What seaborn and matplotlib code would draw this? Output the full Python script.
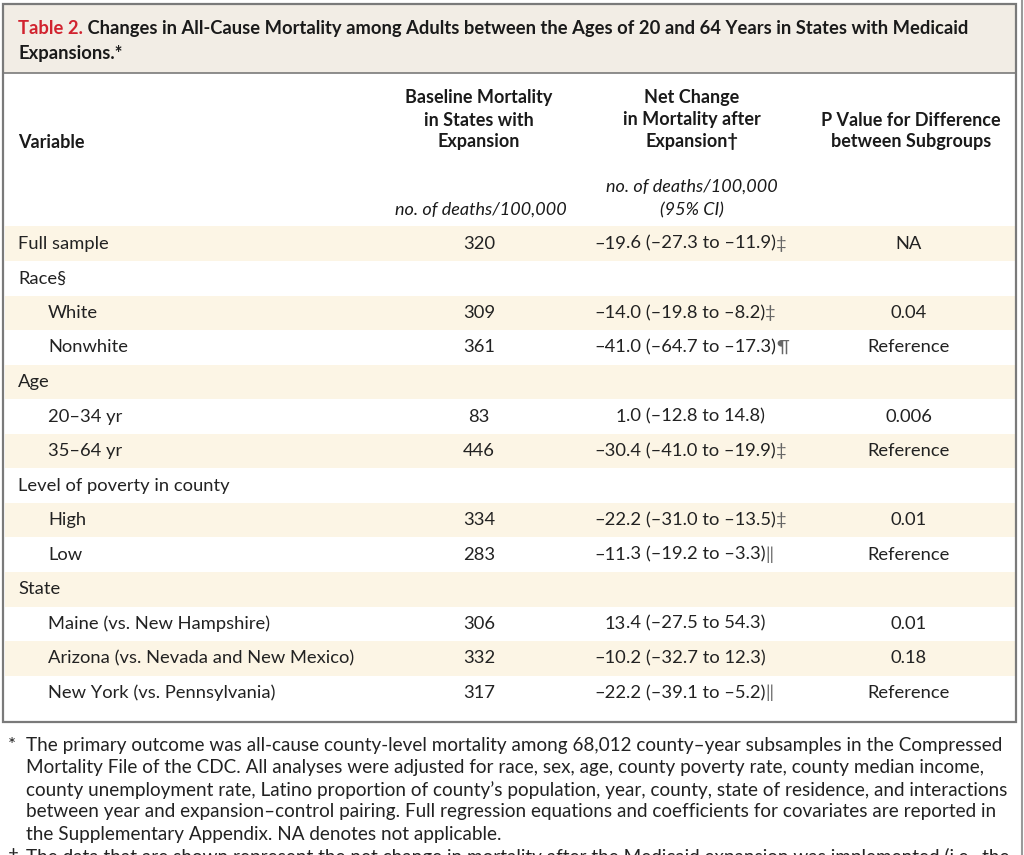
import numpy as np
import seaborn as sns
import matplotlib.pyplot as plt
from matplotlib.colors import ListedColormap
from matplotlib.patches import Rectangle

sns.set_theme(style="white")
plt.rcParams["font.family"] = ["Lato", "DejaVu Sans"]

W, H = 1024, 855

# table content
variables = ["Full sample", "Race\u00a7", "White", "Nonwhite", "Age", "20\u201334 yr", "35\u201364 yr",
             "Level of poverty in county", "High", "Low", "State",
             "Maine (vs. New Hampshire)", "Arizona (vs. Nevada and New Mexico)",
             "New York (vs. Pennsylvania)"]
indented = [False, False, True, True, False, True, True, False, True, True, False, True, True, True]
baseline = [320, None, 309, 361, None, 83, 446, None, 334, 283, None, 306, 332, 317]
net_change = [-19.6, None, -14.0, -41.0, None, 1.0, -30.4, None, -22.2, -11.3, None, 13.4, -10.2, -22.2]
ci_low = [-27.3, None, -19.8, -64.7, None, -12.8, -41.0, None, -31.0, -19.2, None, -27.5, -32.7, -39.1]
ci_high = [-11.9, None, -8.2, -17.3, None, 14.8, -19.9, None, -13.5, -3.3, None, 54.3, 12.3, -5.2]
marks = ["\u2021", "", "\u2021", "\u00b6", "", "", "\u2021", "", "\u2021", "\u2016", "", "", "", "\u2016"]
p_values = ["NA", "", "0.04", "Reference", "", "0.006", "Reference", "", "0.01", "Reference",
            "", "0.01", "0.18", "Reference"]

title_red = "Table 2."
title_rest = [" Changes in All-Cause Mortality among Adults between the Ages of 20 and 64 Years in States with Medicaid",
              "Expansions.*"]

footnotes = [
    ("*", "The primary outcome was all-cause county-level mortality among 68,012 county\u2013year subsamples in the Compressed"),
    ("", "Mortality File of the CDC. All analyses were adjusted for race, sex, age, county poverty rate, county median income,"),
    ("", "county unemployment rate, Latino proportion of county\u2019s population, year, county, state of residence, and interactions"),
    ("", "between year and expansion\u2013control pairing. Full regression equations and coefficients for covariates are reported in"),
    ("", "the Supplementary Appendix. NA denotes not applicable."),
    ("\u2020", "The data that are shown represent the net change in mortality after the Medicaid expansion was implemented (i.e., the"),
]


def fmt(v):
    return f"{v:.1f}".replace("-", "\u2013")


fig = plt.figure(figsize=(W / 100, H / 100), dpi=100)
fig.patch.set_facecolor("white")

# row shading via a seaborn heatmap
band_top, row_h = 226.5, 34.55
band_x0, band_x1 = 5, 1015
n = len(variables)
ax_band = fig.add_axes([band_x0 / W, 1 - (band_top + n * row_h) / H,
                        (band_x1 - band_x0) / W, n * row_h / H])
stripes = np.array([[i % 2] for i in range(n)])
sns.heatmap(stripes, cmap=ListedColormap(["#fcf5e5", "#ffffff"]), cbar=False,
            xticklabels=False, yticklabels=False, ax=ax_band)

ax = fig.add_axes([0, 0, 1, 1])
ax.set_xlim(0, W)
ax.set_ylim(H, 0)
ax.axis("off")
ax.patch.set_alpha(0)

# boxes
border = "#7a7a7a"
ax.add_patch(Rectangle((3, 4), 1013, 69, facecolor="#f2ede5", edgecolor="none", zorder=0))
ax.add_patch(Rectangle((3, 4), 1013, 718, facecolor="none", edgecolor=border, lw=1.6, zorder=3))
ax.plot([3, 1016], [73.5, 73.5], color=border, lw=1.2, zorder=3)
ax.plot([1021.5, 1021.5], [0, H], color="#9a9a9a", lw=1.5, zorder=3)

# title
fs_title = 13.2
t = ax.text(18, 27, title_red, color="#d1232f", fontsize=fs_title, fontweight="bold",
            va="center_baseline", ha="left")
fig.canvas.draw()
w_red = t.get_window_extent().width
ax.text(18 + w_red, 27, title_rest[0], color="#1a1a1a", fontsize=fs_title, fontweight="bold",
        va="center_baseline", ha="left")
ax.text(18, 52, title_rest[1], color="#1a1a1a", fontsize=fs_title, fontweight="bold",
        va="center_baseline", ha="left")

# header
fs_head = 13.0
hc = "#1a1a1a"
ax.text(18, 142, "Variable", fontsize=fs_head, fontweight="bold", color=hc, va="center")
for y, s in zip([98, 120, 142], ["Baseline Mortality", "in States with", "Expansion"]):
    ax.text(479, y, s, fontsize=fs_head, fontweight="bold", color=hc, va="center", ha="center")
for y, s in zip([98, 120, 142], ["Net Change", "in Mortality after", "Expansion\u2020"]):
    ax.text(692, y, s, fontsize=fs_head, fontweight="bold", color=hc, va="center", ha="center")
for y, s in zip([120, 142], ["P Value for Difference", "between Subgroups"]):
    ax.text(911, y, s, fontsize=fs_head, fontweight="bold", color=hc, va="center", ha="center")
ax.text(481, 210, "no. of deaths/100,000", fontsize=fs_head, style="italic", color=hc,
        va="center", ha="center")
ax.text(692, 187, "no. of deaths/100,000", fontsize=fs_head, style="italic", color=hc,
        va="center", ha="center")
ax.text(692, 210, "(95% CI)", fontsize=fs_head, style="italic", color=hc, va="center", ha="center")

# body rows
fs = 13.2
tc = "#222222"
for i, name in enumerate(variables):
    y = band_top + (i + 0.5) * row_h
    ax.text(48 if indented[i] else 18, y, name, fontsize=fs, color=tc, va="center", ha="left")
    if baseline[i] is not None:
        ax.text(479, y, str(baseline[i]), fontsize=fs, color=tc, va="center", ha="center")
    if net_change[i] is not None:
        est = fmt(net_change[i])
        whole, frac = est.split(".")
        ax.text(626, y, whole, fontsize=fs, color=tc, va="center", ha="right")
        rest = f".{frac} ({fmt(ci_low[i])} to {fmt(ci_high[i])})"
        tr = ax.text(626, y, rest, fontsize=fs, color=tc, va="center", ha="left")
        if marks[i]:
            fig.canvas.draw()
            bb = tr.get_window_extent()
            ax.text(626 + bb.width, y, marks[i], fontsize=fs, color="#666666", va="center", ha="left",
                    family=["Lato", "DejaVu Sans"])
    if p_values[i]:
        ax.text(909, y, p_values[i], fontsize=fs, color=tc, va="center", ha="center")

# footnotes
fs_foot = 13.55
for k, (sym, line) in enumerate(footnotes):
    y = 745 + k * 22.3
    if sym:
        ax.text(8, y, sym, fontsize=fs_foot, color=tc, va="center", ha="left")
    ax.text(26, y, line, fontsize=fs_foot, color=tc, va="center", ha="left")

fig.savefig("out.png", dpi=100)
